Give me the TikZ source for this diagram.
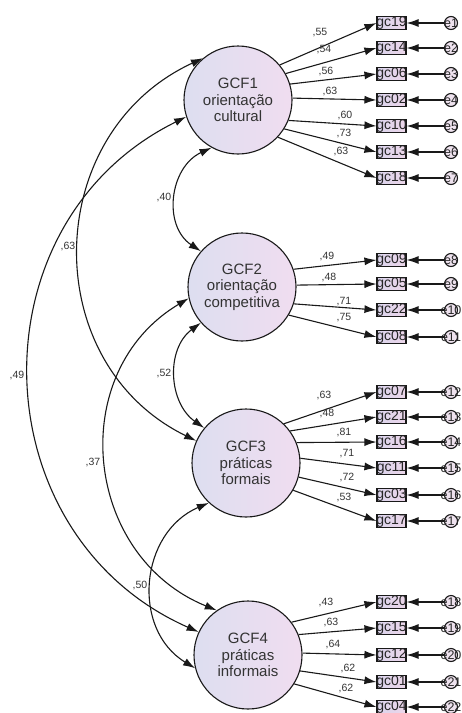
\documentclass[tikz,border=0pt]{standalone}
\usepackage{fontspec}
\setmainfont{Liberation Sans}
\usetikzlibrary{arrows.meta}
\definecolor{latL}{RGB}{221,222,240}
\definecolor{latR}{RGB}{240,221,240}
\definecolor{obsL}{RGB}{218,212,236}
\definecolor{obsR}{RGB}{236,214,234}
\definecolor{errF}{RGB}{238,226,238}
\definecolor{edge}{RGB}{25,25,25}
\begin{document}
\begin{tikzpicture}[x=1pt,y=-1pt,
  lat/.style={circle, draw=edge, line width=1.1pt, minimum size=108pt, inner sep=0pt,
    left color=latL, right color=latR, align=center, text=black!80,
    font=\fontsize{15}{16.5}\selectfont},
  obs/.style={draw=edge, line width=1.1pt, minimum width=29pt, minimum height=12.5pt, inner sep=0pt,
    left color=obsL, right color=obsR},
  obstext/.style={inner sep=0pt, text=black!85, font=\fontsize{14}{14}\selectfont},
  err/.style={circle, draw=edge, line width=1.1pt, minimum size=13pt, inner sep=0pt, fill=errF},
  errtext/.style={inner sep=0pt, text=black!85, font=\fontsize{12.5}{12.5}\selectfont},
  ld/.style={-{Latex[length=12pt,width=8pt]}, line width=1.1pt, draw=edge},
  cv/.style={{Latex[length=12pt,width=8pt]}-{Latex[length=12pt,width=8pt]}, line width=1.1pt, draw=edge},
  lab/.style={inner sep=0pt, text=black!80, font=\fontsize{10.5}{10.5}\selectfont}
]
\useasboundingbox (0,0) rectangle (462,713);
\fill[white] (0,0) rectangle (462,713);

% latent variables
\node[lat] (GCF1) at (238,100) {GCF1\\orientação\\cultural};
\node[lat] (GCF2) at (242,287) {GCF2\\orientação\\competitiva};
\node[lat] (GCF3) at (246,463) {GCF3\\práticas\\formais};
\node[lat] (GCF4) at (248,655) {GCF4\\práticas\\informais};

% group 1
\foreach \n/\y/\e/\a/\v/\lx/\ly in {19/23/1/40/55/320/33, 14/48/2/29/54/324/50, 06/74/3/17/56/326/72, 02/100/4/2/63/330/92, 10/126/5/-22/60/345/116, 13/152/6/-32/73/344/134, 18/178/7/-43/63/341/152}{
  \node[obs] (r\n) at (391.5,\y) {};
  \node[obstext] (t\n) at (r\n) {gc\n};
  \node[err] (e\e) at (451,\y) {};
  \node[errtext] (te\e) at (e\e) {e\e};
  \draw[ld] (GCF1.\a) -- (r\n.west);
  \draw[ld] (e\e.west) -- (r\n.east);
  \node[lab] (l\n) at (\lx,\ly) {,\v};
}
% group 2
\foreach \n/\y/\e/\a/\v/\lx/\ly in {09/260/8/19/49/327/257, 05/284/9/2/48/329/277, 22/310/10/-18/71/344/302, 08/337/11/-31/75/344/318}{
  \node[obs] (r\n) at (391.5,\y) {};
  \node[obstext] (t\n) at (r\n) {gc\n};
  \node[err] (e\e) at (451,\y) {};
  \node[errtext] (te\e) at (e\e) {e\e};
  \draw[ld] (GCF2.\a) -- (r\n.west);
  \draw[ld] (e\e.west) -- (r\n.east);
  \node[lab] (l\n) at (\lx,\ly) {,\v};
}
% group 3
\foreach \n/\y/\e/\a/\v/\lx/\ly in {07/392/12/46/63/324/395, 21/417/13/36/48/327/413, 16/442/14/22/81/344/432, 11/468/15/5/71/347/454, 03/495/16/-15/72/347/477, 17/521/17/-30/53/344/497}{
  \node[obs] (r\n) at (391.5,\y) {};
  \node[obstext] (t\n) at (r\n) {gc\n};
  \node[err] (e\e) at (451,\y) {};
  \node[errtext] (te\e) at (e\e) {e\e};
  \draw[ld] (GCF3.\a) -- (r\n.west);
  \draw[ld] (e\e.west) -- (r\n.east);
  \node[lab] (l\n) at (\lx,\ly) {,\v};
}
% group 4
\foreach \n/\y/\e/\a/\v/\lx/\ly in {20/602/18/37/43/326/602, 15/628/19/22/63/331/622, 12/655/20/2/64/333/644, 01/682/21/-17/62/348/668, 04/707/22/-32/62/346/688}{
  \node[obs] (r\n) at (391.5,\y) {};
  \node[obstext] (t\n) at (r\n) {gc\n};
  \node[err] (e\e) at (451,\y) {};
  \node[errtext] (te\e) at (e\e) {e\e};
  \draw[ld] (GCF4.\a) -- (r\n.west);
  \draw[ld] (e\e.west) -- (r\n.east);
  \node[lab] (l\n) at (\lx,\ly) {,\v};
}

% covariances
\draw[cv] (GCF1.241) .. controls (169.6,167) and (162.3,225.6) .. (GCF2.139);
\draw[cv] (GCF2.221) .. controls (165.6,349) and (168.4,402.8) .. (GCF3.140);
\draw[cv] (GCF3.227) .. controls (139.6,532.5) and (130.9,629.2) .. (GCF4.194);
\draw[cv] (GCF1.130) .. controls (41,133) and (37,363) .. (GCF3.156);
\draw[cv] (GCF1.198) .. controls (-29,223) and (-21,535) .. (GCF4.155);
\draw[cv] (GCF2.192) .. controls (65,372) and (83,556) .. (GCF4.125);

\node[lab] (c12) at (164,197) {,40};
\node[lab] (c23) at (164,373) {,52};
\node[lab] (c34) at (140,585) {,50};
\node[lab] (c13) at (68,247) {,63};
\node[lab] (c14) at (17,375) {,49};
\node[lab] (c24) at (93,462) {,37};
\end{tikzpicture}
\end{document}
